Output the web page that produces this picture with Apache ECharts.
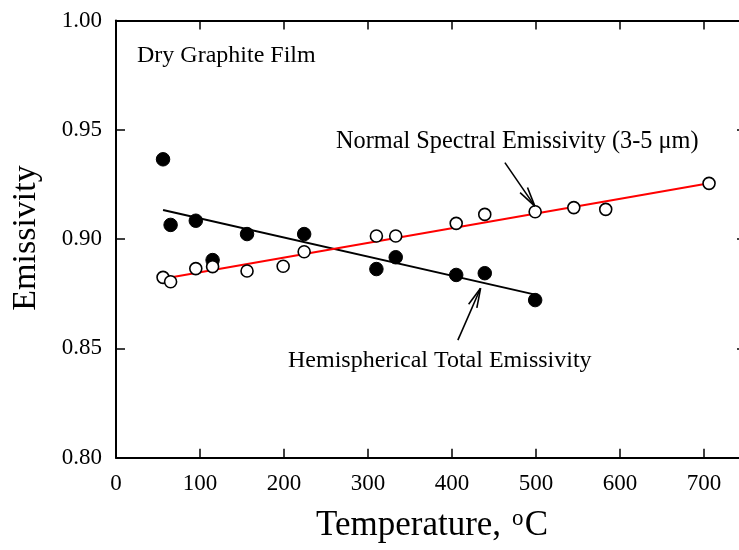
<!DOCTYPE html>
<html>
<head>
<meta charset="utf-8">
<script src="https://cdn.jsdelivr.net/npm/echarts@6/dist/echarts.min.js"></script>
<style>html,body{margin:0;padding:0;background:#fff;overflow:hidden;width:739px;height:550px;}#c{width:760px;height:550px;}</style>
</head>
<body>
<div id="c"></div>
<script>
// Hemispherical total emissivity (filled circles)
const tempFilled = [56, 65, 95, 115, 156, 224, 310, 333, 405, 439, 499];
const emisFilled = [0.9365, 0.9065, 0.9084, 0.8904, 0.9023, 0.9023, 0.8863, 0.8917, 0.8836, 0.8844, 0.8721];
// Normal spectral emissivity (open circles)
const tempOpen = [56, 65, 95, 115, 156, 199, 224, 310, 333, 405, 439, 499, 545, 583, 706];
const emisOpen = [0.8825, 0.8805, 0.8865, 0.8874, 0.8854, 0.8876, 0.8942, 0.9014, 0.9014, 0.9072, 0.9113, 0.9125, 0.9144, 0.9136, 0.9255];
// Fit lines
const fitHemiT = [56, 499];
const fitHemiE = [0.9133, 0.8746];
const fitNormT = [56, 706];
const fitNormE = [0.8819, 0.9255];
// Annotation arrows: [startT, startE, tipT, tipE]
const arrowNormal = [463, 0.9350, 498.6, 0.9151];
const arrowHemi = [407, 0.8538, 434, 0.8775];
// Axis ticks
const xTicks = [0, 100, 200, 300, 400, 500, 600, 700];
const yTicks = [0.80, 0.85, 0.90, 0.95, 1.00];

const FONT = 'Liberation Serif';
const zip = (a, b) => a.map((v, i) => [v, b[i]]);

const chart = echarts.init(document.getElementById('c'), null, {renderer: 'canvas', width: 760, height: 550});

function arrowRender(params, api) {
  const p0 = api.coord([api.value(0), api.value(1)]);
  const p1 = api.coord([api.value(2), api.value(3)]);
  const dx = p0[0] - p1[0], dy = p0[1] - p1[1];
  const len = Math.sqrt(dx * dx + dy * dy);
  const ux = dx / len, uy = dy / len;
  const L = 20, a = 13 * Math.PI / 180;
  const rot = (ang) => [p1[0] + L * (ux * Math.cos(ang) - uy * Math.sin(ang)), p1[1] + L * (ux * Math.sin(ang) + uy * Math.cos(ang))];
  const b1 = rot(a), b2 = rot(-a);
  const st = {stroke: '#000', lineWidth: 1.6, fill: null};
  return {
    type: 'group',
    children: [
      {type: 'line', shape: {x1: p0[0], y1: p0[1], x2: p1[0], y2: p1[1]}, style: st},
      {type: 'line', shape: {x1: b1[0], y1: b1[1], x2: p1[0], y2: p1[1]}, style: st},
      {type: 'line', shape: {x1: b2[0], y1: b2[1], x2: p1[0], y2: p1[1]}, style: st}
    ]
  };
}

const axisLabelStyle = {fontFamily: FONT, fontSize: 23, color: '#000'};
const axisLineStyle = {lineStyle: {color: '#000', width: 2}};
const tickStyle = {show: true, inside: true, length: 9, lineStyle: {color: '#000', width: 1.5}};

chart.setOption({
  animation: false,
  backgroundColor: '#fff',
  grid: {left: 116, top: 20.5, width: 630, height: 437.2, containLabel: false},
  xAxis: [
    {
      type: 'value', min: 0, max: 750, interval: 100, position: 'bottom',
      axisLine: {show: true, onZero: false, ...axisLineStyle},
      axisTick: tickStyle,
      axisLabel: {...axisLabelStyle, margin: 15, showMaxLabel: false,
        formatter: v => (xTicks.indexOf(v) >= 0 ? String(v) : '')},
      splitLine: {show: false}
    },
    {
      type: 'value', min: 0, max: 750, interval: 100, position: 'top',
      axisLine: {show: true, onZero: false, ...axisLineStyle},
      axisTick: tickStyle,
      axisLabel: {show: false}, splitLine: {show: false}
    }
  ],
  yAxis: [
    {
      type: 'value', min: 0.80, max: 1.00, interval: 0.05, position: 'left',
      axisLine: {show: true, onZero: false, ...axisLineStyle},
      axisTick: tickStyle,
      axisLabel: {...axisLabelStyle, margin: 14,
        formatter: v => yTicks.find(t => Math.abs(t - v) < 1e-6) !== undefined ? v.toFixed(2) : ''},
      splitLine: {show: false}
    },
    {
      type: 'value', min: 0.80, max: 1.00, interval: 0.05, position: 'right',
      axisLine: {show: true, onZero: false, ...axisLineStyle},
      axisTick: tickStyle,
      axisLabel: {show: false}, splitLine: {show: false}
    }
  ],
  graphic: [
    {type: 'text', x: 137, y: 56, style: {text: 'Dry Graphite Film', fontFamily: FONT, fontSize: 24, fill: '#000', align: 'left', verticalAlign: 'middle'}},
    {type: 'text', x: 336, y: 141.5, style: {text: 'Normal Spectral Emissivity (3-5 \u03bcm)', fontFamily: FONT, fontSize: 24.3, fill: '#000', align: 'left', verticalAlign: 'middle'}},
    {type: 'text', x: 288, y: 360.5, style: {text: 'Hemispherical Total Emissivity', fontFamily: FONT, fontSize: 24, fill: '#000', align: 'left', verticalAlign: 'middle'}},
    {type: 'text', x: 316, y: 526, style: {text: 'Temperature,', fontFamily: FONT, fontSize: 35, fill: '#000', align: 'left', verticalAlign: 'middle'}},
    {type: 'text', x: 512, y: 519, style: {text: 'o', fontFamily: FONT, fontSize: 23, fill: '#000', align: 'left', verticalAlign: 'middle'}},
    {type: 'text', x: 548, y: 526, style: {text: 'C', fontFamily: FONT, fontSize: 35, fill: '#000', align: 'right', verticalAlign: 'middle'}},
    {type: 'text', x: 26, y: 238, rotation: Math.PI / 2, style: {text: 'Emissivity', fontFamily: FONT, fontSize: 34, fill: '#000', align: 'center', verticalAlign: 'middle'}}
  ],
  series: [
    {
      type: 'line', data: zip(fitHemiT, fitHemiE), symbol: 'none', z: 2,
      lineStyle: {color: '#000', width: 2}
    },
    {
      type: 'line', data: zip(fitNormT, fitNormE), symbol: 'none', z: 2,
      lineStyle: {color: '#ff0000', width: 2}
    },
    {
      type: 'scatter', data: zip(tempFilled, emisFilled), symbol: 'circle', symbolSize: 13.5, z: 3,
      itemStyle: {color: '#000', borderColor: '#000', borderWidth: 1, opacity: 1}
    },
    {
      type: 'scatter', data: zip(tempOpen, emisOpen), symbol: 'circle', symbolSize: 12, z: 4,
      itemStyle: {color: '#fff', borderColor: '#000', borderWidth: 1.6, opacity: 1}
    },
    {
      type: 'custom', renderItem: arrowRender, z: 5, clip: false,
      encode: {x: [0, 2], y: [1, 3]},
      data: [arrowNormal, arrowHemi]
    }
  ]
});
</script>
</body>
</html>
